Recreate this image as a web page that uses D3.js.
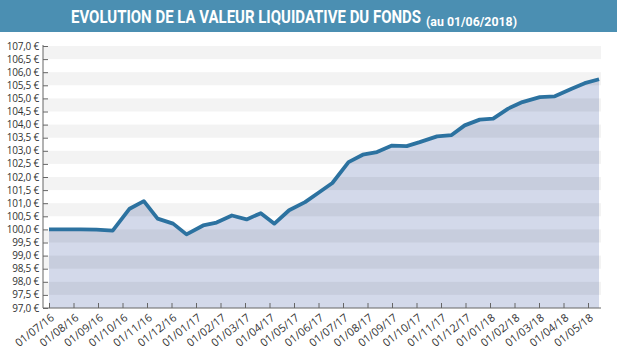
<!DOCTYPE html>
<html>
<head>
<meta charset="utf-8">
<script src="https://cdn.jsdelivr.net/npm/d3@7"></script>
<style>
  body { margin: 0; background: #fff; }
  svg { display: block; font-family: "Open Sans", "Noto Sans", sans-serif; }
</style>
</head>
<body>
<div id="chart"></div>
<script>
// valeurs liquidatives
var dates = [
  '2016-07-01', '2016-07-21', '2016-08-10', '2016-08-30', '2016-09-19',
  '2016-10-10', '2016-10-28', '2016-11-14', '2016-12-03', '2016-12-20',
  '2017-01-10', '2017-01-27', '2017-02-14', '2017-03-03', '2017-03-21',
  '2017-04-07', '2017-04-25', '2017-05-15', '2017-06-01', '2017-06-18',
  '2017-07-08', '2017-07-26', '2017-08-13', '2017-09-01', '2017-09-19',
  '2017-10-05', '2017-10-27', '2017-11-14', '2017-11-30', '2017-12-19',
  '2018-01-05', '2018-01-24', '2018-02-10', '2018-03-02', '2018-03-21',
  '2018-04-11', '2018-04-27', '2018-05-15'
];
var values = [
  100.00, 100.00, 100.00, 99.99, 99.95,
  100.79, 101.08, 100.41, 100.22, 99.81,
  100.15, 100.26, 100.53, 100.38, 100.62,
  100.22, 100.73, 101.04, 101.40, 101.77,
  102.57, 102.85, 102.95, 103.20, 103.18,
  103.33, 103.55, 103.60, 103.97, 104.19,
  104.23, 104.61, 104.86, 105.05, 105.08,
  105.37, 105.58, 105.73
];
var monthTicks = [
  '01/07/16', '01/08/16', '01/09/16', '01/10/16', '01/11/16', '01/12/16',
  '01/01/17', '01/02/17', '01/03/17', '01/04/17', '01/05/17', '01/06/17',
  '01/07/17', '01/08/17', '01/09/17', '01/10/17', '01/11/17', '01/12/17',
  '01/01/18', '01/02/18', '01/03/18', '01/04/18', '01/05/18'
];
var yTicks = d3.range(97, 107.01, 0.5);

var title = 'EVOLUTION DE LA VALEUR LIQUIDATIVE DU FONDS';
var subtitle = '(au 01/06/2018)';

var W = 617, H = 354;
var pLeft = 43, pRight = 601, pTop = 46, pBottom = 308;

// position en mois depuis le 01/07/2016 (mois de largeur égale)
function monthPos(s) {
  var p = s.split('-').map(Number);
  var dim = new Date(p[0], p[1], 0).getDate();
  return (p[0] - 2016) * 12 + (p[1] - 7) + (p[2] - 1) / dim;
}

var data = dates.map(function(d, i) { return { m: monthPos(d), v: values[i] }; });

var x = d3.scaleLinear().domain([0, monthTicks.length - 1]).range([49, 588]);
var y = d3.scaleLinear().domain([97, 107]).range([pBottom, pTop]);

var svg = d3.select('#chart').append('svg')
  .attr('width', W)
  .attr('height', H);

// bandeau titre
svg.append('rect')
  .attr('x', 0).attr('y', 0)
  .attr('width', W).attr('height', 32)
  .attr('fill', '#4b8fb2');
var t = svg.append('text')
  .attr('x', 71).attr('y', 23)
  .attr('fill', '#fff')
  .style('font-family', 'Roboto, sans-serif')
  .style('font-weight', 'bold');
t.append('tspan')
  .style('font-size', '19px')
  .attr('textLength', 350)
  .attr('lengthAdjust', 'spacingAndGlyphs')
  .text(title);
t.append('tspan')
  .attr('x', 426).attr('dy', 2.5)
  .style('font-size', '12.5px')
  .attr('textLength', 91)
  .attr('lengthAdjust', 'spacingAndGlyphs')
  .text(subtitle);

// fond blanc / gris alterné
var bands = d3.range(yTicks.length - 1).map(function(i) {
  return { lo: yTicks[i], hi: yTicks[i + 1], k: yTicks.length - 2 - i };
});
var grey = bands.filter(function(b) { return b.k % 2 === 0; });

var area = d3.area()
  .x(function(d) { return x(d.m); })
  .y0(pBottom)
  .y1(function(d) { return y(d.v); });

svg.append('clipPath').attr('id', 'areaClip')
  .append('path').datum(data).attr('d', area);

svg.append('g').selectAll('rect')
  .data(grey)
  .join('rect')
    .attr('x', pLeft).attr('width', pRight - pLeft)
    .attr('y', function(b) { return y(b.hi); })
    .attr('height', function(b) { return y(b.lo) - y(b.hi); })
    .attr('fill', '#f3f3f3');

svg.append('path')
  .datum(data)
  .attr('d', area)
  .attr('fill', '#d3d9ea');

svg.append('g')
  .attr('clip-path', 'url(#areaClip)')
  .selectAll('rect')
  .data(grey)
  .join('rect')
    .attr('x', pLeft).attr('width', pRight - pLeft)
    .attr('y', function(b) { return y(b.hi); })
    .attr('height', function(b) { return y(b.lo) - y(b.hi); })
    .attr('fill', '#000')
    .attr('fill-opacity', 0.055);

// courbe
svg.append('path')
  .datum(data)
  .attr('d', d3.line()
    .x(function(d) { return x(d.m); })
    .y(function(d) { return y(d.v); }))
  .attr('fill', 'none')
  .attr('stroke', '#2c72a0')
  .attr('stroke-width', 3.8)
  .attr('stroke-linejoin', 'round');

// axes
var fmt = function(v) { return d3.format('.1f')(v).replace('.', ',') + ' €'; };

var yAxis = svg.append('g')
  .attr('transform', 'translate(' + pLeft + ',0)')
  .call(d3.axisRight(y).tickValues(yTicks).tickSize(5).tickFormat(''));
yAxis.select('.domain').attr('d', 'M0,' + (pTop - 1) + 'V' + pBottom);
yAxis.selectAll('line').attr('stroke', '#666');
yAxis.select('.domain').attr('stroke', '#666');

svg.append('g').selectAll('text')
  .data(yTicks)
  .join('text')
    .attr('x', 39)
    .attr('y', function(d) { return y(d); })
    .attr('dy', '0.35em')
    .attr('text-anchor', 'end')
    .attr('fill', '#333')
    .style('font-size', '10px')
    .style('letter-spacing', '-0.2px')
    .text(fmt);

var xAxis = svg.append('g')
  .attr('transform', 'translate(0,' + pBottom + ')')
  .call(d3.axisTop(x).tickValues(d3.range(monthTicks.length)).tickSize(5).tickFormat(''));
xAxis.select('.domain').attr('d', 'M' + pLeft + ',0H' + pRight);
xAxis.selectAll('line').attr('stroke', '#666');
xAxis.select('.domain').attr('stroke', '#666');

svg.append('g').selectAll('text')
  .data(monthTicks)
  .join('text')
    .attr('transform', function(d, i) {
      return 'translate(' + (x(i) + 6) + ',' + (pBottom + 11) + ') rotate(-38)';
    })
    .attr('text-anchor', 'end')
    .attr('fill', '#333')
    .style('font-size', '11px')
    .text(function(d) { return d; });
</script>
</body>
</html>
